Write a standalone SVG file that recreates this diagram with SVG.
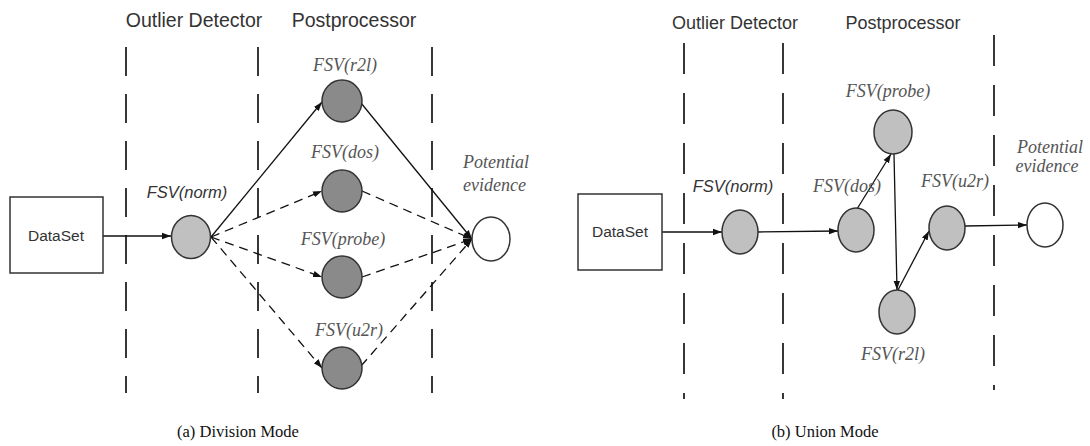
<svg xmlns="http://www.w3.org/2000/svg" width="1090" height="446" viewBox="0 0 1090 446">
<defs>
<marker id="ah" viewBox="0 0 10 10" refX="10" refY="5" markerWidth="9" markerHeight="9" markerUnits="userSpaceOnUse" orient="auto">
<path d="M0,1.5 L10,5 L0,8.5 z" fill="#111"/>
</marker>
</defs>
<style>
.title{font-family:"Liberation Sans",Arial,sans-serif;font-size:19.5px;fill:#333;text-anchor:middle}
.tb{font-size:18px}
.sepa{stroke:#222;stroke-width:1.8;stroke-dasharray:29 18;fill:none}
.sepb{stroke:#222;stroke-width:1.8;stroke-dasharray:31 19;fill:none}
.node{stroke:#333;stroke-width:1.5}
.light{fill:#c0c0c0}
.dark{fill:#8a8a8a}
.white{fill:#fff}
.box{fill:#fff;stroke:#333;stroke-width:1.5}
.boxtxt{font-family:"Liberation Sans",Arial,sans-serif;font-size:15.5px;fill:#333;text-anchor:middle}
.slab{font-family:"Liberation Sans",Arial,sans-serif;font-style:italic;font-size:16.5px;fill:#333;text-anchor:middle}
.serlab{font-family:"Liberation Serif",serif;font-style:italic;font-size:18px;fill:#555;text-anchor:middle}
.st{text-anchor:start}
.edge{stroke:#111;stroke-width:1.3;fill:none;marker-end:url(#ah)}
.dash{stroke-dasharray:9 6}
.cap{font-family:"Liberation Serif","Times New Roman",serif;font-size:16.5px;fill:#111;text-anchor:middle}
</style>
<rect width="1090" height="446" fill="#fff"/>

<!-- Panel (a) -->
<g id="a-titles">
<text class="title" x="194" y="27">Outlier Detector</text>
<text class="title" x="354" y="27">Postprocessor</text>
</g>
<g id="a-separators">
<line class="sepa" x1="126" y1="47" x2="126" y2="393"/>
<line class="sepa" x1="258" y1="47" x2="258" y2="393"/>
<line class="sepa" x1="432" y1="47" x2="432" y2="393"/>
</g>
<g id="a-connectors">
<line class="edge" x1="103" y1="236" x2="171" y2="236"/>
<line class="edge" x1="211" y1="237" x2="322" y2="102"/>
<line class="edge dash" x1="211" y1="237" x2="322" y2="191"/>
<line class="edge dash" x1="211" y1="237" x2="322" y2="277"/>
<line class="edge dash" x1="211" y1="237" x2="322" y2="368"/>
<line class="edge" x1="361" y1="103" x2="472" y2="239"/>
<line class="edge dash" x1="362" y1="191" x2="472" y2="239"/>
<line class="edge dash" x1="362" y1="277" x2="472" y2="239"/>
<line class="edge dash" x1="361" y1="366" x2="472" y2="239"/>
</g>
<g id="a-dataset">
<rect class="box" x="10" y="197" width="93" height="76"/>
<text class="boxtxt" x="56" y="241">DataSet</text>
</g>
<g id="a-norm">
<ellipse class="node light" cx="191" cy="237" rx="19.5" ry="21.5"/>
<text class="slab" x="187" y="198">FSV(norm)</text>
</g>
<g id="a-r2l">
<ellipse class="node dark" cx="342" cy="101" rx="20" ry="21"/>
<text class="serlab" x="345" y="71" font-family="Liberation Serif, serif">FSV(r2l)</text>
</g>
<g id="a-dos">
<ellipse class="node dark" cx="342" cy="191" rx="20" ry="21"/>
<text class="serlab" x="345" y="158">FSV(dos)</text>
</g>
<g id="a-probe">
<ellipse class="node dark" cx="342" cy="277" rx="20" ry="21"/>
<text class="serlab" x="343" y="245">FSV(probe)</text>
</g>
<g id="a-u2r">
<ellipse class="node dark" cx="342" cy="368" rx="20" ry="21"/>
<text class="serlab" x="349" y="336">FSV(u2r)</text>
</g>
<g id="a-evidence">
<ellipse class="node white" cx="491" cy="239" rx="19" ry="22"/>
<text class="serlab st" x="463" y="168">Potential</text>
<text class="serlab st" x="463" y="191">evidence</text>
</g>
<text class="cap" x="238" y="437">(a) Division Mode</text>

<!-- Panel (b) -->
<g id="b-titles">
<text class="title tb" x="735" y="29">Outlier Detector</text>
<text class="title tb" x="903" y="29">Postprocessor</text>
</g>
<g id="b-separators">
<line class="sepb" x1="684" y1="43" x2="684" y2="399"/>
<line class="sepb" x1="783" y1="43" x2="783" y2="399"/>
<line class="sepb" x1="994" y1="35" x2="994" y2="390"/>
</g>
<g id="b-connectors">
<line class="edge" x1="662" y1="232" x2="722" y2="232"/>
<line class="edge" x1="758" y1="232" x2="838" y2="231"/>
<line class="edge" x1="857" y1="209" x2="891" y2="154"/>
<line class="edge" x1="894" y1="154" x2="897" y2="290"/>
<line class="edge" x1="898" y1="290" x2="929" y2="231"/>
<line class="edge" x1="965" y1="226" x2="1027" y2="225"/>
</g>
<g id="b-dataset">
<rect class="box" x="578" y="194" width="84" height="76"/>
<text class="boxtxt" x="620" y="237">DataSet</text>
</g>
<g id="b-norm">
<ellipse class="node light" cx="740" cy="232" rx="18" ry="22"/>
<text class="slab" x="733" y="192">FSV(norm)</text>
</g>
<g id="b-dos">
<ellipse class="node light" cx="856" cy="230" rx="18" ry="22"/>
<text class="serlab" x="847" y="192">FSV(dos)</text>
</g>
<g id="b-probe">
<ellipse class="node light" cx="893" cy="132" rx="19" ry="22"/>
<text class="serlab" x="888" y="97">FSV(probe)</text>
</g>
<g id="b-r2l">
<ellipse class="node light" cx="897" cy="312" rx="18" ry="22"/>
<text class="serlab" x="893" y="360">FSV(r2l)</text>
</g>
<g id="b-u2r">
<ellipse class="node light" cx="947" cy="228" rx="18" ry="22"/>
<text class="serlab" x="955" y="187">FSV(u2r)</text>
</g>
<g id="b-evidence">
<ellipse class="node white" cx="1045" cy="225" rx="18" ry="22"/>
<text class="serlab" x="1050" y="153">Potential</text>
<text class="serlab" x="1047" y="172">evidence</text>
</g>
<text class="cap" x="825" y="437">(b) Union Mode</text>
</svg>
